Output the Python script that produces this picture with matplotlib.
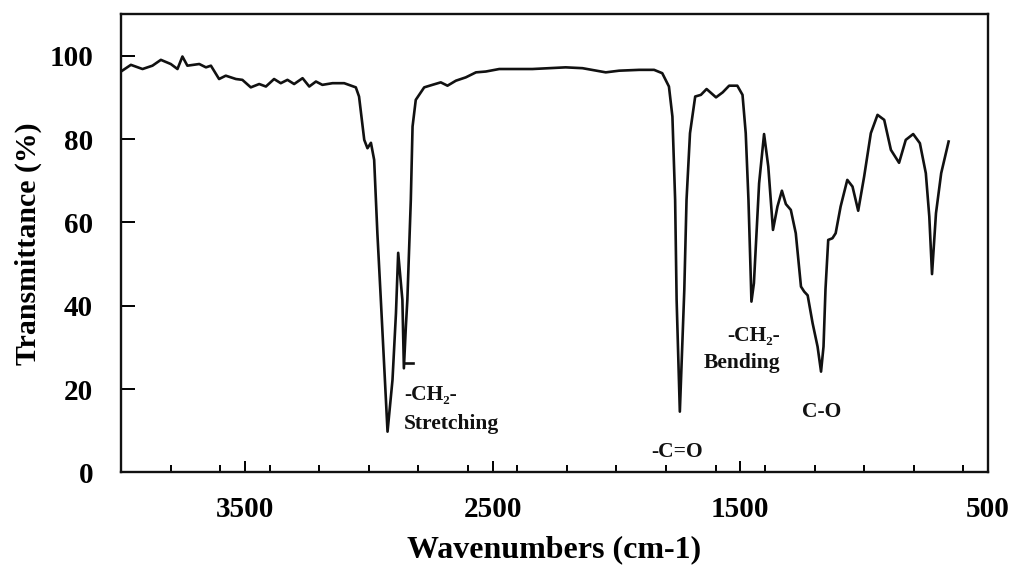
import matplotlib
matplotlib.use("Agg")
import matplotlib.pyplot as plt
from matplotlib.ticker import FixedLocator, MultipleLocator

# FTIR spectrum: wavenumber (cm-1) vs transmittance (%)
wavenumber = [4000, 3960, 3913, 3873, 3839, 3799, 3772, 3752, 3732, 3684,
              3657, 3637, 3604, 3577, 3536, 3510, 3476, 3442, 3415, 3382,
              3355, 3328, 3301, 3267, 3240, 3213, 3187, 3146, 3099, 3052,
              3039, 3018, 3005, 2991, 2978, 2965, 2951, 2924, 2904, 2890,
              2881, 2864, 2858, 2850, 2844, 2830, 2823, 2810, 2776, 2743,
              2709, 2682, 2648, 2608, 2567, 2527, 2473, 2393, 2339, 2205,
              2137, 2043, 1989, 1908, 1848, 1815, 1788, 1774, 1763, 1757,
              1744, 1726, 1717, 1703, 1682, 1659, 1636, 1598, 1571, 1545,
              1512, 1491, 1478, 1467, 1457, 1455, 1445, 1424, 1404, 1387,
              1368, 1350, 1332, 1316, 1296, 1276, 1255, 1242, 1228, 1208,
              1188, 1174, 1164, 1156, 1145, 1128, 1115, 1095, 1068, 1047,
              1024, 1000, 973, 946, 919, 892, 859, 832, 802, 775,
              751, 737, 726, 710, 689, 659]
transmittance = [96.2, 97.8, 96.8, 97.6, 99.0, 98.0, 96.8, 99.8, 97.6, 98.0,
                 97.2, 97.6, 94.4, 95.2, 94.4, 94.2, 92.4, 93.2, 92.6, 94.4,
                 93.4, 94.2, 93.2, 94.6, 92.6, 93.8, 93.0, 93.4, 93.4, 92.4,
                 90.2, 79.8, 77.8, 79.1, 75.0, 57.4, 41.4, 9.8, 22.2, 38.2,
                 52.7, 41.4, 25.0, 35.0, 41.4, 65.4, 83.0, 89.4, 92.4, 93.0,
                 93.6, 92.8, 94.0, 94.8, 96.0, 96.2, 96.8, 96.8, 96.8, 97.2,
                 97.0, 96.0, 96.4, 96.6, 96.6, 95.8, 92.6, 85.4, 65.4, 41.4,
                 14.6, 43.8, 65.4, 81.4, 90.2, 90.6, 92.0, 90.0, 91.2, 92.8,
                 92.8, 90.6, 81.4, 65.4, 45.4, 41.0, 45.4, 69.4, 81.2, 73.4,
                 58.2, 63.8, 67.6, 64.4, 63.0, 57.4, 44.6, 43.4, 42.5, 35.8,
                 30.2, 24.2, 30.2, 44.0, 55.8, 56.2, 57.4, 63.8, 70.2, 68.6,
                 62.8, 71.0, 81.4, 85.8, 84.6, 77.4, 74.3, 79.8, 81.2, 79.0,
                 71.8, 61.4, 47.6, 62.2, 71.8, 79.4]

# short baseline marker under the 2850 band
marker_x = [2857, 2820]
marker_y = [26.2, 26.2]

# band labels: (text, x, y, horizontal alignment)
band_labels = [
    ("-CH\u2082-", 2857, 18.6, "left"),
    ("Stretching", 2857, 11.6, "left"),
    ("-C=O", 1757, 4.9, "center"),
    ("-CH\u2082-", 1339, 32.8, "right"),
    ("Bending", 1339, 26.2, "right"),
    ("C-O", 1170, 14.5, "center"),
]

x_major = [3500, 2500, 1500, 500]
y_ticks = [0, 20, 40, 60, 80, 100]

serif = ["Liberation Serif", "DejaVu Serif"]
plt.rcParams["font.family"] = serif
plt.rcParams["font.weight"] = "bold"

fig = plt.figure(figsize=(10.15, 5.69), dpi=100)
ax = fig.add_axes([0.1192, 0.1696, 0.8542, 0.8058])

ink = "#111111"
ax.plot(wavenumber, transmittance, color=ink, lw=1.9, solid_joinstyle="round")
ax.plot(marker_x, marker_y, color=ink, lw=1.9)

for text, x, y, ha in band_labels:
    ax.text(x, y, text, ha=ha, va="center", fontsize=15.5, fontweight="bold",
            color=ink, family=serif)

ax.set_xlim(4000, 500)
ax.set_ylim(0, 110)

ax.xaxis.set_major_locator(FixedLocator(x_major))
ax.xaxis.set_minor_locator(MultipleLocator(200))
ax.yaxis.set_major_locator(FixedLocator(y_ticks))

ax.tick_params(axis="x", which="major", direction="in", length=8, width=1.4,
               pad=17, labelsize=21, top=False)
ax.tick_params(axis="x", which="minor", direction="in", length=5, width=1.4,
               top=False)
ax.tick_params(axis="y", which="major", direction="in", length=10, width=1.4,
               pad=20, labelsize=21, right=False)

for spine in ax.spines.values():
    spine.set_linewidth(1.7)
    spine.set_color(ink)

ax.set_xlabel("Wavenumbers (cm-1)", fontsize=23, fontweight="bold", labelpad=9)
ax.set_ylabel("Transmittance (%)", fontsize=21.5, fontweight="bold", labelpad=5)

fig.savefig("out.png", dpi=100)
